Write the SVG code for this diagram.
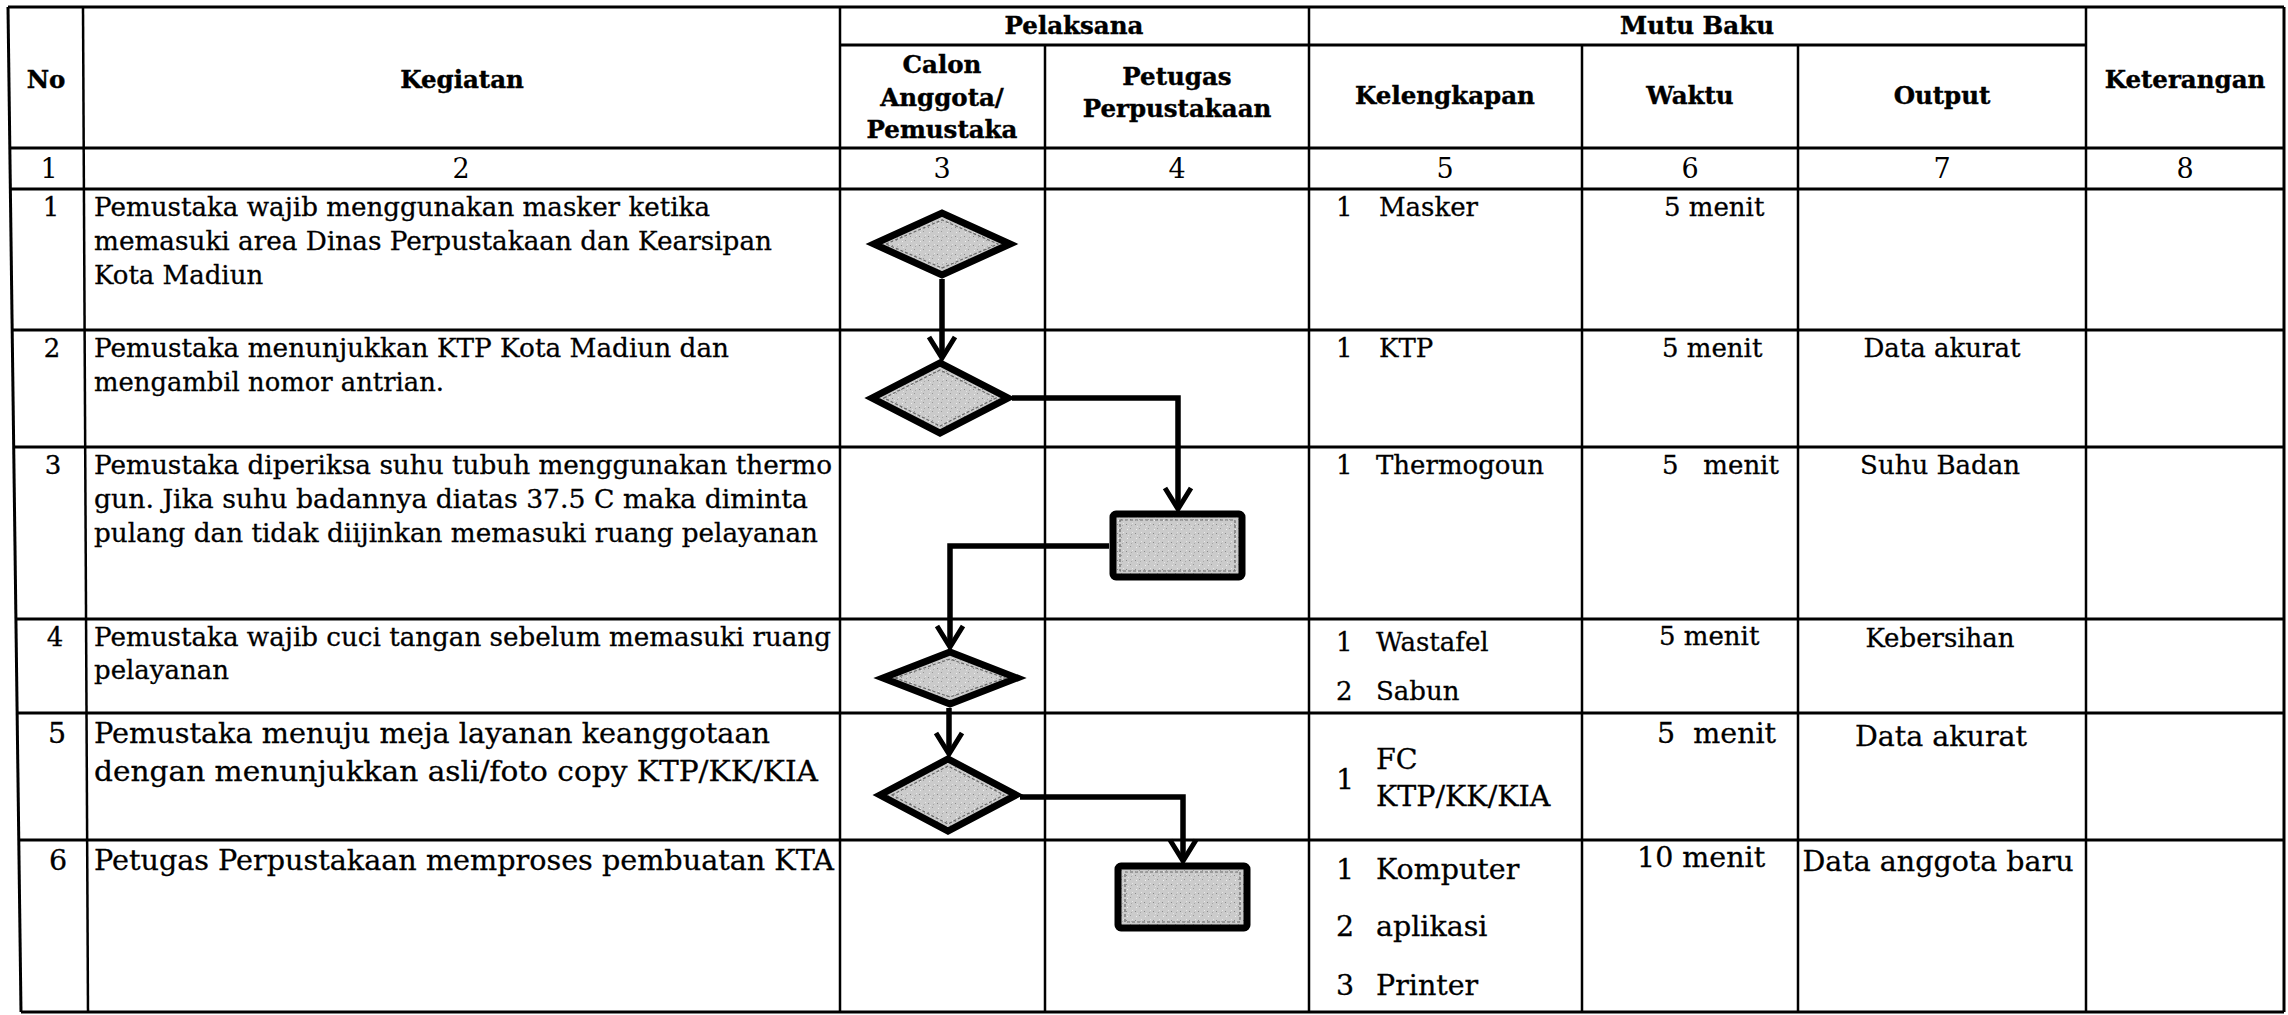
<svg xmlns="http://www.w3.org/2000/svg" width="2288" height="1015" viewBox="0 0 2288 1015">
<defs>
<style>
.v{stroke:#000;stroke-width:2.5;fill:none}
.h{stroke:#000;stroke-width:3;fill:none}
.hd{font-family:"DejaVu Serif","Liberation Serif",serif;font-weight:bold;font-size:24.5px;fill:#000;stroke:#000;stroke-width:0.4;text-anchor:middle}
.nm{font-family:"DejaVu Serif","Liberation Serif",serif;font-size:27px;fill:#000;text-anchor:middle}
.tx{font-family:"DejaVu Serif","Liberation Serif",serif;font-size:26px;fill:#000;stroke:#000;stroke-width:0.3}
.tl{font-family:"DejaVu Serif","Liberation Serif",serif;font-size:28.5px;fill:#000;stroke:#000;stroke-width:0.3}
.c{text-anchor:middle}
.shape{fill:url(#stip);stroke:#000;stroke-width:7;stroke-linejoin:miter}
.inner{fill:none;stroke:#6a6a6a;stroke-width:1.2;stroke-dasharray:3 2}
.con{fill:none;stroke:#000;stroke-width:5.5;stroke-linejoin:miter;stroke-linecap:butt}
</style>
<pattern id="stip" patternUnits="userSpaceOnUse" width="9" height="9">
<rect width="9" height="9" fill="#cbcbcb"/>
<rect x="1" y="2" width="1" height="1" fill="#8a8a8a"/>
<rect x="5" y="6" width="1" height="1" fill="#9a9a9a"/>
<rect x="7" y="1" width="1" height="1" fill="#e6e6e6"/>
<rect x="3" y="4" width="1" height="1" fill="#e2e2e2"/>
<rect x="6" y="3" width="1" height="1" fill="#a8a8a8"/>
<rect x="2" y="7" width="1" height="1" fill="#eeeeee"/>
</pattern>
<marker id="arr" markerUnits="userSpaceOnUse" markerWidth="32" markerHeight="32" viewBox="0 0 32 32" refX="25" refY="16" orient="auto">
<path d="M4,3 L25,16 L4,29" fill="none" stroke="#000" stroke-width="5" stroke-linejoin="miter"/>
</marker>
</defs>
<rect x="0" y="0" width="2288" height="1015" fill="#fff"/>

<g id="table">
<path class="h" d="M8,7 H2284"/>
<path class="h" d="M840,45 H2086"/>
<path class="h" d="M9.8,148 H2284"/>
<path class="h" d="M10.4,189 H2284"/>
<path class="h" d="M12.2,330 H2284"/>
<path class="h" d="M13.7,447 H2284"/>
<path class="h" d="M15.9,619 H2284"/>
<path class="h" d="M17.1,713 H2284"/>
<path class="h" d="M18.8,840 H2284"/>
<path class="h" d="M21,1012 H2284"/>
<path class="h" d="M8,7 L21,1012"/>
<path class="v" d="M83,7 L88,1012"/>
<path class="v" d="M840,7 V1012"/>
<path class="v" d="M1045,45 V1012"/>
<path class="v" d="M1309,7 V1012"/>
<path class="v" d="M1582,45 V1012"/>
<path class="v" d="M1798,45 V1012"/>
<path class="v" d="M2086,7 V1012"/>
<path class="h" d="M2284,7 V1012"/>
</g>

<g id="header">
<text class="hd" x="46" y="88">No</text>
<text class="hd" x="462" y="88">Kegiatan</text>
<text class="hd" x="1074" y="34">Pelaksana</text>
<text class="hd" x="1697" y="34">Mutu Baku</text>
<text class="hd" x="942" y="73">Calon</text>
<text class="hd" x="942" y="106">Anggota/</text>
<text class="hd" x="942" y="138">Pemustaka</text>
<text class="hd" x="1177" y="85">Petugas</text>
<text class="hd" x="1177" y="117">Perpustakaan</text>
<text class="hd" x="1445" y="104">Kelengkapan</text>
<text class="hd" x="1690" y="104">Waktu</text>
<text class="hd" x="1942" y="104">Output</text>
<text class="hd" x="2185" y="88">Keterangan</text>
</g>

<g id="colnums">
<text class="nm" x="49" y="178">1</text>
<text class="nm" x="461" y="178">2</text>
<text class="nm" x="942" y="178">3</text>
<text class="nm" x="1177" y="178">4</text>
<text class="nm" x="1445" y="178">5</text>
<text class="nm" x="1690" y="178">6</text>
<text class="nm" x="1942" y="178">7</text>
<text class="nm" x="2185" y="178">8</text>
</g>

<g id="row1">
<text class="tx c" x="51" y="216">1</text>
<text class="tx" x="94" y="216" textLength="616" lengthAdjust="spacingAndGlyphs">Pemustaka wajib menggunakan masker ketika</text>
<text class="tx" x="94" y="250" textLength="678" lengthAdjust="spacingAndGlyphs">memasuki area Dinas Perpustakaan dan Kearsipan</text>
<text class="tx" x="94" y="284">Kota Madiun</text>
<text class="tx" x="1336" y="216">1</text>
<text class="tx" x="1379" y="216">Masker</text>
<text class="tx" x="1664" y="216">5 menit</text>
</g>

<g id="row2">
<text class="tx c" x="52" y="357">2</text>
<text class="tx" x="94" y="357" textLength="635" lengthAdjust="spacingAndGlyphs">Pemustaka menunjukkan KTP Kota Madiun dan</text>
<text class="tx" x="94" y="391" textLength="350" lengthAdjust="spacingAndGlyphs">mengambil nomor antrian.</text>
<text class="tx" x="1336" y="357">1</text>
<text class="tx" x="1379" y="357">KTP</text>
<text class="tx" x="1662" y="357">5 menit</text>
<text class="tx c" x="1942" y="357">Data akurat</text>
</g>

<g id="row3">
<text class="tx c" x="53" y="474">3</text>
<text class="tx" x="94" y="474" textLength="738" lengthAdjust="spacingAndGlyphs">Pemustaka diperiksa suhu tubuh menggunakan thermo</text>
<text class="tx" x="94" y="508" textLength="714" lengthAdjust="spacingAndGlyphs">gun. Jika suhu badannya diatas 37.5 C maka diminta</text>
<text class="tx" x="94" y="542" textLength="724" lengthAdjust="spacingAndGlyphs">pulang dan tidak diijinkan memasuki ruang pelayanan</text>
<text class="tx" x="1336" y="474">1</text>
<text class="tx" x="1376" y="474">Thermogoun</text>
<text class="tx" x="1662" y="474" xml:space="preserve">5   menit</text>
<text class="tx c" x="1940" y="474">Suhu Badan</text>
</g>

<g id="row4">
<text class="tx c" x="55" y="646">4</text>
<text class="tx" x="94" y="646" textLength="737" lengthAdjust="spacingAndGlyphs">Pemustaka wajib cuci tangan sebelum memasuki ruang</text>
<text class="tx" x="94" y="679">pelayanan</text>
<text class="tx" x="1336" y="651">1</text>
<text class="tx" x="1376" y="651">Wastafel</text>
<text class="tx" x="1336" y="700">2</text>
<text class="tx" x="1376" y="700">Sabun</text>
<text class="tx" x="1659" y="645">5 menit</text>
<text class="tx c" x="1940" y="647">Kebersihan</text>
</g>

<g id="row5">
<text class="tl c" x="57" y="743">5</text>
<text class="tl" x="94" y="743" textLength="676" lengthAdjust="spacingAndGlyphs">Pemustaka menuju meja layanan keanggotaan</text>
<text class="tl" x="94" y="781" textLength="724" lengthAdjust="spacingAndGlyphs">dengan menunjukkan asli/foto copy KTP/KK/KIA</text>
<text class="tl" x="1336" y="789">1</text>
<text class="tl" x="1376" y="769">FC</text>
<text class="tl" x="1376" y="806">KTP/KK/KIA</text>
<text class="tl" x="1657" y="743" xml:space="preserve">5  menit</text>
<text class="tl c" x="1941" y="746">Data akurat</text>
</g>

<g id="row6">
<text class="tl c" x="58" y="870">6</text>
<text class="tl" x="94" y="870" textLength="740" lengthAdjust="spacingAndGlyphs">Petugas Perpustakaan memproses pembuatan KTA</text>
<text class="tl" x="1336" y="879">1</text>
<text class="tl" x="1376" y="879">Komputer</text>
<text class="tl" x="1336" y="936">2</text>
<text class="tl" x="1376" y="936">aplikasi</text>
<text class="tl" x="1336" y="995">3</text>
<text class="tl" x="1376" y="995">Printer</text>
<text class="tl" x="1637" y="867">10 menit</text>
<text class="tl c" x="1938" y="871">Data anggota baru</text>
</g>

<g id="connectors">
<path class="con" d="M942,279 V358" marker-end="url(#arr)"/>
<path class="con" d="M1012,398 H1178 V509" marker-end="url(#arr)"/>
<path class="con" d="M1109,546 H950 V647" marker-end="url(#arr)"/>
<path class="con" d="M949,708 V754" marker-end="url(#arr)"/>
<path class="con" d="M1020,797 H1183 V861" marker-end="url(#arr)"/>
</g>

<g id="node-d1">
<polygon class="shape" points="874,244 942,213 1010,244 942,275"/>
<polygon class="inner" points="886,244 942,220 998,244 942,268"/>
</g>
<g id="node-d2">
<polygon class="shape" points="872,398 940,363 1008,398 940,433"/>
<polygon class="inner" points="884,398 940,370 996,398 940,426"/>
</g>
<g id="node-r1">
<rect class="shape" x="1113" y="514" width="129" height="63" rx="3"/>
<rect class="inner" x="1120" y="520" width="115" height="51"/>
</g>
<g id="node-d3">
<polygon class="shape" points="883,678 950,652 1017,678 950,704"/>
<polygon class="inner" points="895,678 950,659 1005,678 950,697"/>
</g>
<g id="node-d4">
<polygon class="shape" points="880,795 948,759 1016,795 948,831"/>
<polygon class="inner" points="892,795 948,766 1004,795 948,824"/>
</g>
<g id="node-r2">
<rect class="shape" x="1118" y="866" width="129" height="62" rx="3"/>
<rect class="inner" x="1125" y="872" width="115" height="50"/>
</g>
</svg>
